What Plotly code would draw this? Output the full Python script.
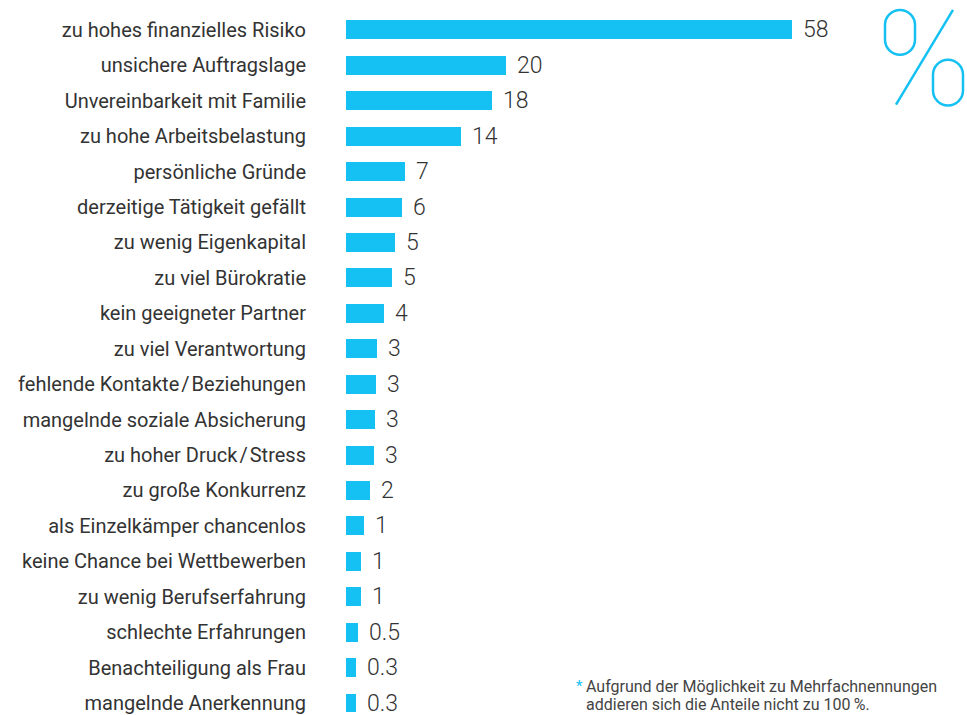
import plotly.graph_objects as go

categories = [
    "zu hohes finanzielles Risiko",
    "unsichere Auftragslage",
    "Unvereinbarkeit mit Familie",
    "zu hohe Arbeitsbelastung",
    "persönliche Gründe",
    "derzeitige Tätigkeit gefällt",
    "zu wenig Eigenkapital",
    "zu viel Bürokratie",
    "kein geeigneter Partner",
    "zu viel Verantwortung",
    "fehlende Kontakte\u200a/\u200aBeziehungen",
    "mangelnde soziale Absicherung",
    "zu hoher Druck\u200a/\u200aStress",
    "zu große Konkurrenz",
    "als Einzelkämper chancenlos",
    "keine Chance bei Wettbewerben",
    "zu wenig Berufserfahrung",
    "schlechte Erfahrungen",
    "Benachteiligung als Frau",
    "mangelnde Anerkennung",
]
# bar lengths (unrounded estimates)
values = [58.0, 20.1, 18.2, 14.1, 6.7, 6.3, 5.4, 5.0, 3.9, 3.0,
          2.85, 2.7, 2.6, 2.05, 1.26, 0.86, 0.86, 0.46, 0.2, 0.2]
# printed value labels
value_labels = ["58", "20", "18", "14", "7", "6", "5", "5", "4", "3",
                "3", "3", "3", "2", "1", "1", "1", "0.5", "0.3", "0.3"]
footnote_lines = ["Aufgrund der Möglichkeit zu Mehrfachnennungen",
                  "addieren sich die Anteile nicht zu 100\u2009%."]

BLUE = "#15C1F2"
TEXT = "#333333"
W, H = 967, 715
L = 346
BASE = -1.13
PXU = 7.54
xmax = BASE + (W - L) / PXU

fig = go.Figure()
fig.add_trace(go.Bar(
    y=categories, x=[v - BASE for v in values], base=BASE,
    orientation="h", marker=dict(color=BLUE, line=dict(width=0)),
    width=0.535, hoverinfo="skip",
))

for c, v, t in zip(categories, values, value_labels):
    fig.add_annotation(x=v, y=c, xref="x", yref="y", text=t, showarrow=False,
                       xanchor="left", yanchor="middle", xshift=9,
                       font=dict(family="Roboto", size=23, color=TEXT, weight=300))

def px(x, y):
    return ((x - L) / (W - L), 1 - y / H)

def stadium(x0, y0, x1, y1):
    r = (x1 - x0) / 2
    k = 0.5523 * r
    def p(x, y):
        a, b = px(x, y)
        return f"{a:.5f},{b:.5f}"
    cx = (x0 + x1) / 2
    path = f"M{p(x0, y0 + r)} "
    path += f"C{p(x0, y0 + r - k)} {p(cx - k, y0)} {p(cx, y0)} "
    path += f"C{p(cx + k, y0)} {p(x1, y0 + r - k)} {p(x1, y0 + r)} "
    path += f"L{p(x1, y1 - r)} "
    path += f"C{p(x1, y1 - r + k)} {p(cx + k, y1)} {p(cx, y1)} "
    path += f"C{p(cx - k, y1)} {p(x0, y1 - r + k)} {p(x0, y1 - r)} Z"
    return path

shapes = []
for (a, b, c, d) in [(885, 10, 915, 55), (933, 60, 963, 106)]:
    shapes.append(dict(type="path", xref="paper", yref="paper", path=stadium(a, b, c, d),
                       line=dict(color=BLUE, width=2.5), fillcolor="rgba(0,0,0,0)"))
x0, y0 = px(953, 10)
x1, y1 = px(896, 105)
shapes.append(dict(type="line", xref="paper", yref="paper", x0=x0, y0=y0, x1=x1, y1=y1,
                   line=dict(color=BLUE, width=2.5)))

fa, fb = px(574, 689)
fig.add_annotation(xref="paper", yref="paper", x=fa, y=fb, text="*", showarrow=False,
                   xanchor="left", yanchor="middle",
                   font=dict(family="Roboto", size=15, color=BLUE))
for line, yy in zip(footnote_lines, [689, 707]):
    ta, tb = px(584, yy)
    fig.add_annotation(xref="paper", yref="paper", x=ta, y=tb, text=line,
                       showarrow=False, xanchor="left", yanchor="middle", align="left",
                       font=dict(family="Roboto", size=16, color="#444444"))

top_i = -30.0 / 35.58
bot_i = (H - 30.0) / 35.58
fig.update_layout(
    width=W, height=H, autosize=False,
    margin=dict(l=L, r=0, t=0, b=0),
    paper_bgcolor="white", plot_bgcolor="white",
    showlegend=False, shapes=shapes,
    xaxis=dict(range=[BASE, xmax], visible=False, fixedrange=True),
    yaxis=dict(type="category", range=[bot_i, top_i], showgrid=False, zeroline=False,
               showline=False, ticks="", ticklabelstandoff=39, fixedrange=True,
               tickfont=dict(family="Roboto", size=20, color=TEXT)),
    bargap=0,
)
fig.write_html("out.html", config={"displayModeBar": False},
               post_script="document.body.style.margin='0';document.body.style.overflow='hidden';")
